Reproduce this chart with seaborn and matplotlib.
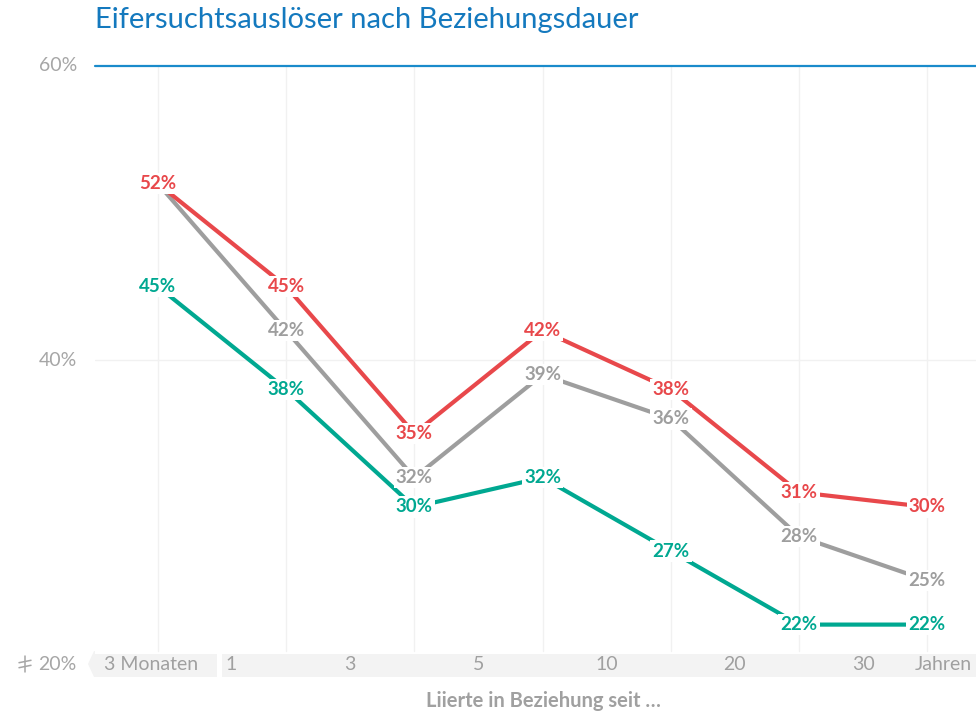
import pandas as pd
import matplotlib.pyplot as plt
import seaborn as sns
from matplotlib.patches import Polygon, Rectangle
from matplotlib.lines import Line2D

# Daten
kategorien = ["3 Monate-1 Jahr", "1-3 Jahre", "3-5 Jahre", "5-10 Jahre",
              "10-20 Jahre", "20-30 Jahre", "über 30 Jahre"]
serie_rot = [52, 45, 35, 42, 38, 31, 30]
serie_grau = [52, 42, 32, 39, 36, 28, 25]
serie_gruen = [45, 38, 30, 32, 27, 22, 22]
tick_labels = ["3 Monaten", "1", "3", "5", "10", "20", "30", "Jahren"]
y_ticks = [40, 60]

farben = {"grau": "#9E9E9E", "rot": "#E8484B", "gruen": "#00A891"}

df = pd.concat([
    pd.DataFrame({"pos": range(len(kategorien)), "kategorie": kategorien,
                  "wert": werte, "serie": name})
    for name, werte in [("grau", serie_grau), ("rot", serie_rot), ("gruen", serie_gruen)]
])

sns.set_style("white")
plt.rcParams["font.family"] = ["Lato", "DejaVu Sans"]

W, H = 976, 713
fig = plt.figure(figsize=(W / 100, H / 100), dpi=100)
ax = fig.add_axes([95 / W, 1 - 654 / H, (W - 95) / W, (654 - 66) / H])


def fx(px):
    return px / W


def fy(py):
    return 1 - py / H


# Gitterlinien
for i in range(len(kategorien)):
    ax.plot([i, i], [20.2, 60], color="#F1F1F1", lw=1, zorder=0)
ax.axhline(40, color="#F1F1F1", lw=1, zorder=0)
ax.axhline(60, color="#1A8BCB", lw=1.6, zorder=1, clip_on=False)

sns.lineplot(data=df, x="pos", y="wert", hue="serie", palette=farben,
             linewidth=3, legend=False, ax=ax, zorder=2)

# Datenbeschriftungen mit weißem Hintergrund (Lücke in der Linie)
for name, werte in [("grau", serie_grau), ("rot", serie_rot), ("gruen", serie_gruen)]:
    for i, v in enumerate(werte):
        ax.text(i, v, f"{v}%", ha="center", va="center", fontsize=13.5,
                fontweight="bold", color=farben[name], zorder=5,
                bbox=dict(boxstyle="square,pad=0.12", fc="white", ec="none"))

ax.set_xlim(-0.49, 6.38)
ax.set_ylim(20, 60)
ax.set_xticks([])
ax.set_yticks([])
ax.set_xlabel("")
ax.set_ylabel("")
for s in ax.spines.values():
    s.set_visible(False)

# y-Achse
for t in y_ticks:
    ax.text(-0.63, t, f"{t}%", ha="right", va="center", fontsize=14,
            color="#A6A6A6")
fig.text(fx(76), fy(664), "20%", ha="right", va="center", fontsize=14,
         color="#A6A6A6")
# Achsenbruch-Symbol
bx, by = 25, 664
fig.add_artist(Line2D([fx(bx), fx(bx)], [fy(by - 8), fy(by + 8)],
                      color="#A6A6A6", lw=1.1))
for dy in (-2.5, 2.5):
    fig.add_artist(Line2D([fx(bx - 6), fx(bx + 6)], [fy(by + dy + 1.2), fy(by + dy - 1.2)],
                          color="#A6A6A6", lw=1.1))

# x-Achsen-Band
fig.add_artist(Polygon([(fx(88), fy(664)), (fx(94), fy(651)), (fx(217), fy(651)),
                        (fx(217), fy(677)), (fx(94), fy(677))],
                       closed=True, fc="#F3F3F3", ec="none", zorder=0))
fig.add_artist(Rectangle((fx(222), fy(677)), fx(W - 222), fy(651) - fy(677),
                         fc="#F3F3F3", ec="none", zorder=0))

tick_pos = [-0.05, 0.53, 1.5, 2.5, 3.5, 4.5, 5.5, 5.9]
tick_ha = ["center", "left", "center", "center", "center", "center", "center", "left"]
for p, lab, ha in zip(tick_pos, tick_labels, tick_ha):
    ax.text(p, -10 / (654 - 66), lab, ha=ha, va="center", fontsize=14,
            color="#A0A0A0", transform=ax.get_xaxis_transform(), clip_on=False)

fig.text(fx(543), fy(701), "Liierte in Beziehung seit …", ha="center", va="center",
         fontsize=14.5, fontweight="bold", color="#A0A0A0")

fig.text(fx(95), fy(20), "Eifersuchtsauslöser nach Beziehungsdauer", ha="left",
         va="center", fontsize=21, color="#1479BE")

fig.savefig("out.png", dpi=100, facecolor="white")
